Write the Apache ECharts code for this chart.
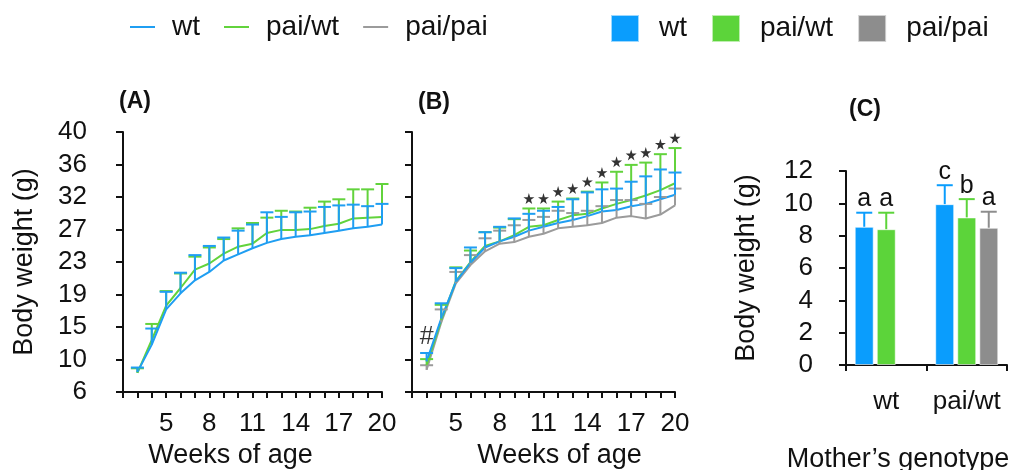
<!DOCTYPE html>
<html>
<head>
<meta charset="utf-8">
<script src="https://cdn.jsdelivr.net/npm/echarts@6/dist/echarts.min.js"></script>
<style>
  html, body { margin: 0; padding: 0; background: #fff; }
  #chart { width: 1011px; height: 470px; }
</style>
</head>
<body>
<div id="chart"></div>
<script>
// weeks of age (panels A and B)
var weeks = [3, 4, 5, 6, 7, 8, 9, 10, 11, 12, 13, 14, 15, 16, 17, 18, 19, 20]
var yTickLabels = ['6', '10', '15', '19', '23', '27', '32', '36', '40']

// (A) mean and mean+SD
var A_wt = [8.6, 12.2, 16.8, 18.9, 20.6, 21.7, 23.2, 24.0, 24.8, 25.5, 26.0, 26.3, 26.5, 26.8, 27.1, 27.4, 27.6, 27.9]
var A_wt_up = [9.2, 14.3, 19.1, 21.6, 23.9, 25.1, 26.2, 27.1, 27.9, 29.5, 28.9, 29.5, 29.6, 30.2, 30.4, 30.5, 30.3, 30.6]
var A_pw = [8.5, 12.8, 17.3, 19.6, 22.0, 22.8, 24.1, 25.0, 25.4, 26.8, 27.2, 27.2, 27.3, 27.7, 28.0, 28.7, 28.8, 28.9]
var A_pw_up = [9.1, 14.9, 19.2, 21.5, 23.7, 24.9, 26.0, 27.4, 28.1, 28.8, 29.7, 29.6, 30.1, 30.9, 31.2, 32.5, 32.5, 33.2]

// (B) mean and mean+SD
var B_wt = [10.0, 15.6, 20.4, 22.9, 24.9, 25.7, 26.3, 27.1, 27.6, 28.1, 28.5, 29.0, 29.6, 29.8, 30.3, 30.6, 31.2, 31.8]
var B_wt_up = [11.1, 17.6, 22.2, 24.9, 26.9, 27.6, 28.7, 29.3, 29.7, 30.2, 31.2, 32.1, 32.5, 32.6, 33.5, 34.2, 35.1, 34.7]
var B_pw = [9.5, 15.4, 20.5, 23.0, 25.1, 25.7, 26.5, 27.6, 27.8, 28.5, 29.1, 29.3, 30.0, 30.6, 31.1, 31.7, 32.4, 33.3]
var B_pw_up = [10.3, 17.4, 22.3, 24.5, 26.9, 27.5, 28.6, 30.0, 30.0, 30.9, 31.3, 32.2, 33.4, 34.8, 35.7, 36.0, 37.1, 37.9]
var B_pp = [8.9, 15.1, 20.2, 22.6, 24.4, 25.4, 25.6, 26.3, 26.7, 27.4, 27.6, 27.8, 28.1, 28.8, 29.0, 28.7, 29.2, 30.4]
var B_pp_up = [9.5, 16.8, 21.7, 23.9, 26.1, 27.1, 27.8, 28.5, 28.9, 29.7, 29.4, 29.7, 30.3, 31.1, 31.1, 30.6, 31.5, 32.6]
var starWeeks = [10, 11, 12, 13, 14, 15, 16, 17, 18, 19, 20]
var hashWeeks = [3]

// (C) by mother's genotype
var groups = ['wt', 'pai/wt']
var C_wt = [8.55, 9.95]
var C_wt_up = [9.42, 11.12]
var C_pw = [8.4, 9.13]
var C_pw_up = [9.42, 10.26]
var C_pp = ['-', 8.49]
var C_pp_up = ['-', 9.48]
var C_wt_letters = ['a', 'c']
var C_pw_letters = ['a', 'b']
var C_pp_letters = ['', 'a']

var FONT = "'Liberation Sans', Arial, Helvetica, sans-serif"
var BLUE = '#1f9ef2', GREEN = '#62d33c', GRAY = '#9b9b9b'
var BAR_BLUE = '#0a9dfd', BAR_GREEN = '#5cd43a', BAR_GRAY = '#8d8d8d'

function pairs(xs, ys) {
  return xs.map(function (x, i) { return [x, ys[i]] })
}
function triples(xs, m, u) {
  return xs.map(function (x, i) { return [x, m[i], u[i]] })
}

function errRender(color, capW, slot, letters) {
  return function (params, api) {
    var x = api.value(0)
    var mv = api.value(1), uv = api.value(2)
    if (isNaN(mv) || isNaN(uv)) return
    var m = api.coord([x, mv])
    var u = api.coord([x, uv])
    var dx = slot || 0
    var kids = [
      { type: 'line', shape: { x1: m[0] + dx, y1: m[1], x2: u[0] + dx, y2: u[1] }, style: { stroke: color, lineWidth: 2 } },
      { type: 'line', shape: { x1: u[0] + dx - capW / 2, y1: u[1], x2: u[0] + dx + capW / 2, y2: u[1] }, style: { stroke: color, lineWidth: 2 } }
    ]
    if (letters && letters[params.dataIndex]) {
      kids.push({
        type: 'text',
        style: { text: letters[params.dataIndex], x: u[0] + dx, y: u[1] - 1, align: 'center', verticalAlign: 'bottom', font: '25px ' + FONT, fill: '#111' }
      })
    }
    return { type: 'group', children: kids }
  }
}

var starPath = 'path://M50,0 L61,35 L98,35 L68,57 L79,91 L50,70 L21,91 L32,57 L2,35 L39,35 Z'

var axisLine = { show: true, lineStyle: { color: '#111', width: 2 } }
var axisTick = { show: true, length: 7, lineStyle: { color: '#111', width: 2 } }
var labelStyle = { color: '#111', fontSize: 26, fontFamily: FONT }
var nameStyle = { color: '#111', fontSize: 27, fontFamily: FONT }

function weekAxis(idx, pad) {
  return {
    type: 'value', gridIndex: idx, min: 2, max: 20, interval: 1,
    axisLine: axisLine, axisTick: { show: true, length: 6, lineStyle: { color: '#111', width: 2 } },
    splitLine: { show: false },
    axisLabel: Object.assign({ margin: 19, formatter: function (v) { return (v > 2 && (v - 2) % 3 === 0) ? String(v) : '' } }, labelStyle),
    name: 'Weeks of age', nameLocation: 'middle', nameGap: 50,
    nameTextStyle: Object.assign({ padding: pad }, nameStyle)
  }
}
function weightAxis(idx, showLabels) {
  return {
    type: 'value', gridIndex: idx, min: 6, max: 40, interval: 4.25,
    axisLine: axisLine, axisTick: axisTick, splitLine: { show: false },
    axisLabel: Object.assign({
      show: showLabels, margin: 36,
      formatter: function (v) { return yTickLabels[Math.round((v - 6) / 4.25)] }
    }, labelStyle),
    name: showLabels ? 'Body weight (g)' : '', nameLocation: 'middle', nameGap: 85,
    nameTextStyle: nameStyle
  }
}

var chart = echarts.init(document.getElementById('chart'))
chart.setOption({
  animation: false,
  textStyle: { fontFamily: FONT },
  grid: [
    { left: 123, top: 132, width: 259, height: 260, outerBoundsMode: 'none' },
    { left: 412, top: 132, width: 263, height: 260, outerBoundsMode: 'none' },
    { left: 846, top: 171, width: 161, height: 194, outerBoundsMode: 'none' }
  ],
  legend: [
    {
      data: ['wt', 'pai/wt', 'pai/pai'], left: 124, top: 8,
      itemWidth: 25, itemHeight: 14, itemGap: 23,
      itemStyle: { opacity: 0 },
      textStyle: { fontSize: 28, color: '#111', fontFamily: FONT, padding: [0, 0, 0, 12] }
    },
    {
      data: ['C:wt', 'C:pai/wt', 'C:pai/pai'], left: 605, top: 9,
      icon: 'rect', itemWidth: 28, itemHeight: 27, itemGap: 24,
      formatter: function (n) { return n.replace('C:', '') },
      textStyle: { fontSize: 28, color: '#111', fontFamily: FONT, padding: [0, 0, 0, 15] }
    }
  ],
  graphic: [
    { type: 'text', left: 119, top: 90, style: { text: '(A)', font: 'bold 23px ' + FONT, fill: '#111' } },
    { type: 'text', left: 418, top: 91, style: { text: '(B)', font: 'bold 23px ' + FONT, fill: '#111' } },
    { type: 'text', left: 849, top: 98, style: { text: '(C)', font: 'bold 23px ' + FONT, fill: '#111' } }
  ],
  xAxis: [
    weekAxis(0, [0, 44, 0, 0]),
    weekAxis(1, [0, 0, 0, 32]),
    {
      type: 'category', gridIndex: 2, data: groups,
      axisLine: axisLine, axisTick: { show: true, length: 6, lineStyle: { color: '#111', width: 2 } },
      axisLabel: Object.assign({ margin: 24, interval: 0, hideOverlap: false }, labelStyle),
      name: 'Mother\u2019s genotype', nameLocation: 'middle', nameGap: 81,
      nameTextStyle: Object.assign({ padding: [0, 57, 0, 0] }, nameStyle)
    }
  ],
  yAxis: [
    weightAxis(0, true),
    weightAxis(1, false),
    {
      type: 'value', gridIndex: 2, min: 0, max: 12, interval: 2,
      axisLine: axisLine, axisTick: axisTick, splitLine: { show: false },
      axisLabel: Object.assign({ margin: 33 }, labelStyle),
      name: 'Body weight (g)', nameLocation: 'middle', nameGap: 86,
      nameTextStyle: nameStyle
    }
  ],
  series: [
    // lines, panel A
    { name: 'wt', type: 'line', xAxisIndex: 0, yAxisIndex: 0, symbol: 'none', lineStyle: { color: BLUE, width: 2 }, itemStyle: { color: BLUE }, data: pairs(weeks, A_wt), z: 3 },
    { name: 'pai/wt', type: 'line', xAxisIndex: 0, yAxisIndex: 0, symbol: 'none', lineStyle: { color: GREEN, width: 2 }, itemStyle: { color: GREEN }, data: pairs(weeks, A_pw), z: 2 },
    // lines, panel B
    { name: 'pai/pai', type: 'line', xAxisIndex: 1, yAxisIndex: 1, symbol: 'none', lineStyle: { color: GRAY, width: 2 }, itemStyle: { color: GRAY }, data: pairs(weeks, B_pp), z: 2 },
    { name: 'pai/wt', type: 'line', xAxisIndex: 1, yAxisIndex: 1, symbol: 'none', lineStyle: { color: GREEN, width: 2 }, itemStyle: { color: GREEN }, data: pairs(weeks, B_pw), z: 2 },
    { name: 'wt', type: 'line', xAxisIndex: 1, yAxisIndex: 1, symbol: 'none', lineStyle: { color: BLUE, width: 2 }, itemStyle: { color: BLUE }, data: pairs(weeks, B_wt), z: 3 },
    // error bars A
    { name: 'A-pw-sd', type: 'custom', xAxisIndex: 0, yAxisIndex: 0, renderItem: errRender(GREEN, 13), data: triples(weeks, A_pw, A_pw_up), z: 4 },
    { name: 'A-wt-sd', type: 'custom', xAxisIndex: 0, yAxisIndex: 0, renderItem: errRender(BLUE, 13), data: triples(weeks, A_wt, A_wt_up), z: 5 },
    // error bars B
    { name: 'B-pp-sd', type: 'custom', xAxisIndex: 1, yAxisIndex: 1, renderItem: errRender(GRAY, 13), data: triples(weeks, B_pp, B_pp_up), z: 4 },
    { name: 'B-pw-sd', type: 'custom', xAxisIndex: 1, yAxisIndex: 1, renderItem: errRender(GREEN, 13), data: triples(weeks, B_pw, B_pw_up), z: 4 },
    { name: 'B-wt-sd', type: 'custom', xAxisIndex: 1, yAxisIndex: 1, renderItem: errRender(BLUE, 13), data: triples(weeks, B_wt, B_wt_up), z: 5 },
    // significance marks B
    {
      name: 'stars', type: 'scatter', xAxisIndex: 1, yAxisIndex: 1, symbol: starPath, symbolSize: 11, symbolOffset: [0, -10],
      itemStyle: { color: '#000' }, z: 6,
      data: starWeeks.map(function (w) { return [w, B_pw_up[weeks.indexOf(w)]] })
    },
    {
      name: 'hash', type: 'scatter', xAxisIndex: 1, yAxisIndex: 1, symbolSize: 1, itemStyle: { color: 'rgba(0,0,0,0)' }, z: 6,
      label: { show: true, position: 'top', distance: 3, formatter: '#', fontSize: 25, color: '#000', fontFamily: FONT },
      data: hashWeeks.map(function (w) { return [w, B_wt_up[weeks.indexOf(w)]] })
    },
    // bars C
    { name: 'C:wt', type: 'bar', xAxisIndex: 2, yAxisIndex: 2, barWidth: 19, barGap: '16%', itemStyle: { color: BAR_BLUE, borderColor: 'rgba(255,255,255,0.6)', borderWidth: 1 }, data: C_wt },
    { name: 'C:pai/wt', type: 'bar', xAxisIndex: 2, yAxisIndex: 2, barWidth: 19, barGap: '16%', itemStyle: { color: BAR_GREEN, borderColor: 'rgba(255,255,255,0.6)', borderWidth: 1 }, data: C_pw },
    { name: 'C:pai/pai', type: 'bar', xAxisIndex: 2, yAxisIndex: 2, barWidth: 19, barGap: '16%', itemStyle: { color: BAR_GRAY, borderColor: 'rgba(255,255,255,0.6)', borderWidth: 1 }, data: C_pp },
    // error bars + letters C
    { name: 'C-wt-sd', type: 'custom', xAxisIndex: 2, yAxisIndex: 2, renderItem: errRender(BAR_BLUE, 16, -22, C_wt_letters), data: triples([0, 1], C_wt, C_wt_up), z: 4 },
    { name: 'C-pw-sd', type: 'custom', xAxisIndex: 2, yAxisIndex: 2, renderItem: errRender(BAR_GREEN, 16, 0, C_pw_letters), data: triples([0, 1], C_pw, C_pw_up), z: 4 },
    { name: 'C-pp-sd', type: 'custom', xAxisIndex: 2, yAxisIndex: 2, renderItem: errRender(BAR_GRAY, 16, 22, C_pp_letters), data: triples([0, 1], C_pp, C_pp_up), z: 4 }
  ]
})
</script>
</body>
</html>
